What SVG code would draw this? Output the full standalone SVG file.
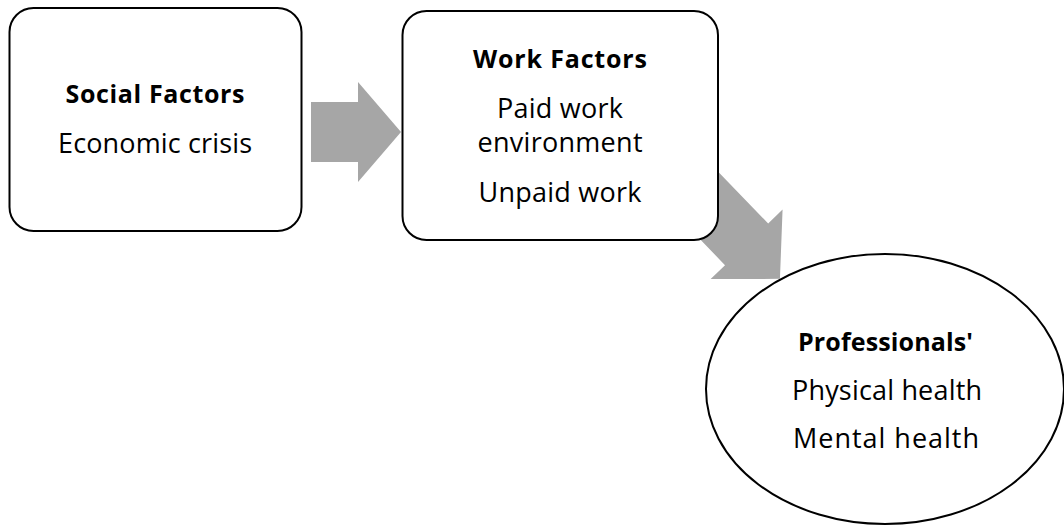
<svg xmlns="http://www.w3.org/2000/svg" width="1064" height="526" viewBox="0 0 1064 526">
<style>
.box{fill:#ffffff;stroke:#000000;stroke-width:2}
.arrow{fill:#a6a6a6;stroke:none}
text{font-family:"Open Sans","Noto Sans","Liberation Sans",sans-serif;font-size:27px;fill:#000000;text-anchor:middle}
.b{font-weight:bold;font-size:25px}
</style>
<rect width="1064" height="526" fill="#ffffff"/>
<g id="connectors">
<polygon class="arrow" points="311,102 358,102 358,82 401,132 358,182 358,162 311,162"/>
<polygon class="arrow" transform="translate(746.6,244.3) rotate(46)" points="-80,-30 0,-30 0,-50 48,0 0,50 0,30 -80,30"/>
</g>
<g id="social">
<rect class="box" x="9.5" y="8" width="292" height="223" rx="24" ry="24"/>
<text class="b" x="155" y="103" textLength="179">Social Factors</text>
<text x="155" y="153" textLength="194">Economic crisis</text>
</g>
<g id="work">
<rect class="box" x="402.5" y="11" width="315.5" height="229" rx="24" ry="24"/>
<text class="b" x="560" y="68" textLength="174">Work Factors</text>
<text x="560" y="118" textLength="126">Paid work</text>
<text x="560" y="152" textLength="165">environment</text>
<text x="560" y="202" textLength="163">Unpaid work</text>
</g>
<g id="professionals">
<ellipse class="box" cx="885" cy="389" rx="179" ry="135"/>
<text class="b" x="885.5" y="351" textLength="175">Professionals'</text>
<text x="887" y="400" textLength="190">Physical health</text>
<text x="886" y="448" textLength="186">Mental health</text>
</g>
</svg>
